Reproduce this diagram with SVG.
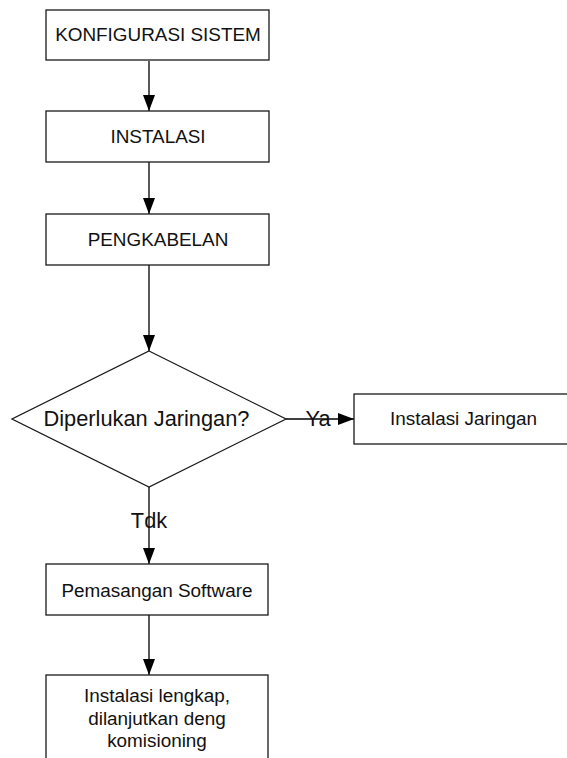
<svg xmlns="http://www.w3.org/2000/svg" width="567" height="758" viewBox="0 0 567 758">
<style>
.box{fill:#fff;stroke:#1a1a1a;stroke-width:1.3}
.t{font-family:"Liberation Sans",Arial,sans-serif;font-size:18.9px;fill:#111;text-anchor:middle}
.tl{font-family:"Liberation Sans",Arial,sans-serif;font-size:21.8px;fill:#111;text-anchor:middle}
.c{stroke:#000;stroke-width:1.3;fill:none}
</style>
<defs>
<marker id="ah" markerUnits="userSpaceOnUse" markerWidth="16" markerHeight="12" refX="16" refY="6" orient="auto">
<path d="M0,0 L16,6 L0,12 Z" fill="#000"/>
</marker>
</defs>
<rect width="567" height="758" fill="#fff"/>
<g id="connectors">
<line class="c" x1="149" y1="61" x2="149" y2="111" marker-end="url(#ah)"/>
<line class="c" x1="149" y1="162" x2="149" y2="214" marker-end="url(#ah)"/>
<line class="c" x1="149" y1="265" x2="149" y2="351" marker-end="url(#ah)"/>
<line class="c" x1="286" y1="419" x2="354" y2="419" marker-end="url(#ah)"/>
<line class="c" x1="149" y1="487" x2="149" y2="564" marker-end="url(#ah)"/>
<line class="c" x1="149" y1="615" x2="149" y2="675" marker-end="url(#ah)"/>
</g>
<g id="n1"><rect class="box" x="46" y="10" width="223" height="50"/><text class="t" x="158" y="41">KONFIGURASI SISTEM</text></g>
<g id="n2"><rect class="box" x="46" y="111" width="223" height="51"/><text class="t" x="158" y="143">INSTALASI</text></g>
<g id="n3"><rect class="box" x="46" y="214" width="223" height="51"/><text class="t" x="158" y="246">PENGKABELAN</text></g>
<g id="n4"><polygon class="box" points="149,351 286,419 149,487 12,419"/><text class="tl" x="146.5" y="426">Diperlukan Jaringan?</text></g>
<g id="n5"><rect class="box" x="354" y="394" width="220" height="50"/><text class="t" x="463.5" y="425">Instalasi Jaringan</text></g>
<g id="n6"><rect class="box" x="46" y="564" width="222" height="51"/><text class="t" x="157" y="597">Pemasangan Software</text></g>
<g id="n7"><rect class="box" x="46" y="675" width="222" height="100"/><text class="t" x="157" y="702">Instalasi lengkap,</text><text class="t" x="157" y="725">dilanjutkan deng</text><text class="t" x="157" y="747">komisioning</text></g>
<g id="labels"><text class="tl" x="318" y="426">Ya</text><text class="tl" x="149" y="528">Tdk</text></g>
</svg>
